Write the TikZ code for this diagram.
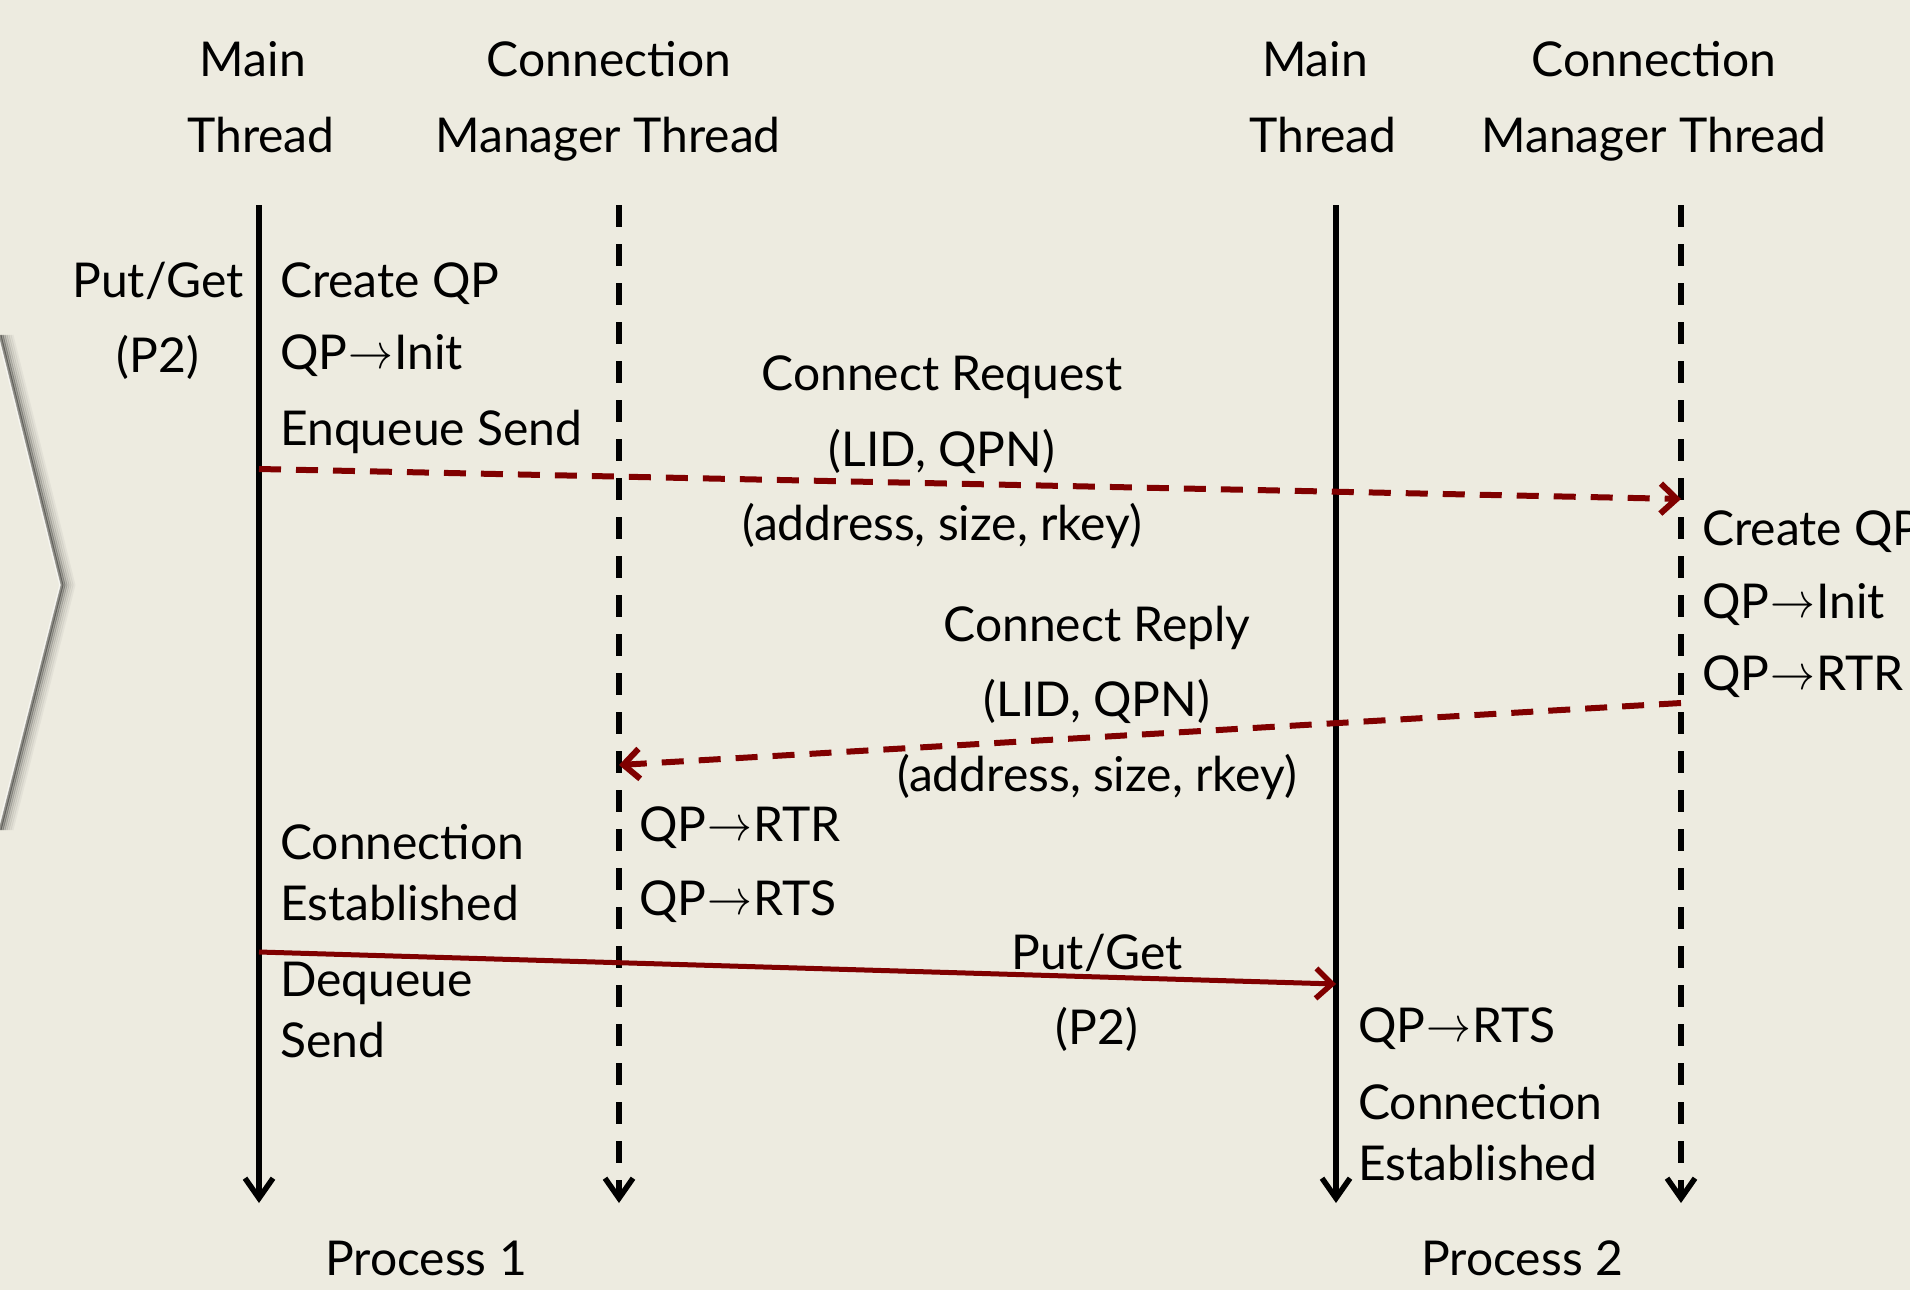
\documentclass[tikz,border=0pt]{standalone}
\usepackage{fontspec}
\usepackage{graphicx}
\setmainfont{Lato}
\usetikzlibrary{arrows.meta}
\definecolor{bg}{RGB}{237,235,224}
\definecolor{msgred}{RGB}{128,0,0}
\newcommand{\ar}{\kern1pt\raisebox{1pt}{\scalebox{1.8}[2]{$\mathsurround=0pt\rightarrow$}}\kern1pt}
\begin{document}
\begin{tikzpicture}[x=1pt,y=-1pt,
  txt/.style={font=\fontsize{48}{58}\selectfont, inner sep=0pt, text=black},
  lt/.style={txt, anchor=base west},
  ct/.style={txt, anchor=base},
  solidlife/.style={draw=black, line width=6pt, -{Straight Barb[length=20pt,width=28pt,line width=5.5pt]}},
  dashlife/.style={draw=black, line width=6pt, dash pattern=on 22pt off 17pt, -{Straight Barb[length=20pt,width=28pt,line width=5.5pt]}},
  msgdash/.style={draw=msgred, line width=6pt, dash pattern=on 22pt off 15pt, -{Straight Barb[length=16pt,width=30pt,line width=6pt]}},
  msgsolid/.style={draw=msgred, line width=5pt, -{Straight Barb[length=16pt,width=30pt,line width=5.5pt]}}]
\fill[bg] (0,0) rectangle (1910,1290);
\useasboundingbox (0,0) rectangle (1910,1290);
\clip (0,0) rectangle (1910,1290);
% chevron shadow
\foreach \d/\o in {12/0.04,10/0.06,8/0.09,6/0.13,4/0.2,2/0.3,0/0.4}{
  \draw[black, line width=3pt, opacity=\o, line join=miter] (\d,335) -- (62+\d,585) -- (\d,830);
}
\draw[white, line width=1.5pt, opacity=0.6] (-2,335) -- (60,585) -- (-2,830);
% headers
\node[ct] (h1a) at (253,77) {Main};
\node[ct] (h1b) at (261,152) {Thread};
\node[ct] (h2a) at (609,77) {Connection};
\node[ct] (h2b) at (608,152) {Manager Thread};
\node[ct] (h3a) at (1315,77) {Main};
\node[ct] (h3b) at (1323,152) {Thread};
\node[ct] (h4a) at (1654,77) {Connection};
\node[ct] (h4b) at (1654,152) {Manager Thread};
% lifelines
\coordinate (m1t) at (259,205); \coordinate (m1b) at (259,1203);
\coordinate (c1t) at (619,205); \coordinate (c1b) at (619,1203);
\coordinate (m2t) at (1336,205); \coordinate (m2b) at (1336,1203);
\coordinate (c2t) at (1681,205); \coordinate (c2b) at (1681,1203);
\draw[solidlife] (m1t) -- (m1b);
\draw[dashlife] (c1t) -- (c1b);
\draw[solidlife] (m2t) -- (m2b);
\draw[dashlife] (c2t) -- (c2b);
% left texts
\node[ct] (pg1) at (158,297) {Put/Get};
\node[ct] (p21) at (158,372) {(P2)};
\node[lt] (cq1) at (280,297) {Create QP};
\node[lt] (qi1) at (280,369) {QP\ar Init};
\node[lt] (es1) at (280,445) {Enqueue Send};
% message 1
\coordinate (s1) at (259,469); \coordinate (e1) at (1681,499);
\draw[msgdash] (s1) -- (e1);
\node[ct] (cr) at (942,390) {Connect Request};
\node[ct] (cr2) at (942,466) {(LID, QPN)};
\node[ct] (cr3) at (942,540) {(address, size, rkey)};
% right texts
\node[lt] (cq2) at (1702,545) {Create QP};
\node[lt] (qi2) at (1702,618) {QP\ar Init};
\node[lt] (qr2) at (1702,690) {QP\ar RTR};
% message 2
\coordinate (s2) at (1681,703); \coordinate (e2) at (619,765);
\draw[msgdash] (s2) -- (e2);
\node[ct] (rp) at (1097,641) {Connect Reply};
\node[ct] (rp2) at (1097,716) {(LID, QPN)};
\node[ct] (rp3) at (1097,791) {(address, size, rkey)};
% middle texts
\node[lt] (qr1) at (639,841) {QP\ar RTR};
\node[lt] (qs1) at (639,915) {QP\ar RTS};
\node[lt] (ce1) at (280,859) {Connection};
\node[lt] (ce1b) at (280,920) {Established};
% message 3
\coordinate (s3) at (259,952); \coordinate (e3) at (1336,984);
\draw[msgsolid] (s3) -- (e3);
\node[ct] (pg2) at (1097,969) {Put/Get};
\node[ct] (p22) at (1097,1044) {(P2)};
\node[lt] (dq) at (280,996) {Dequeue};
\node[lt] (sd) at (280,1057) {Send};
\node[lt] (qs2) at (1358,1042) {QP\ar RTS};
\node[lt] (ce2) at (1358,1119) {Connection};
\node[lt] (ce2b) at (1358,1180) {Established};
% process labels
\node[ct] (pr1) at (426,1275) {Process 1};
\node[ct] (pr2) at (1522,1275) {Process 2};
\end{tikzpicture}
\end{document}
